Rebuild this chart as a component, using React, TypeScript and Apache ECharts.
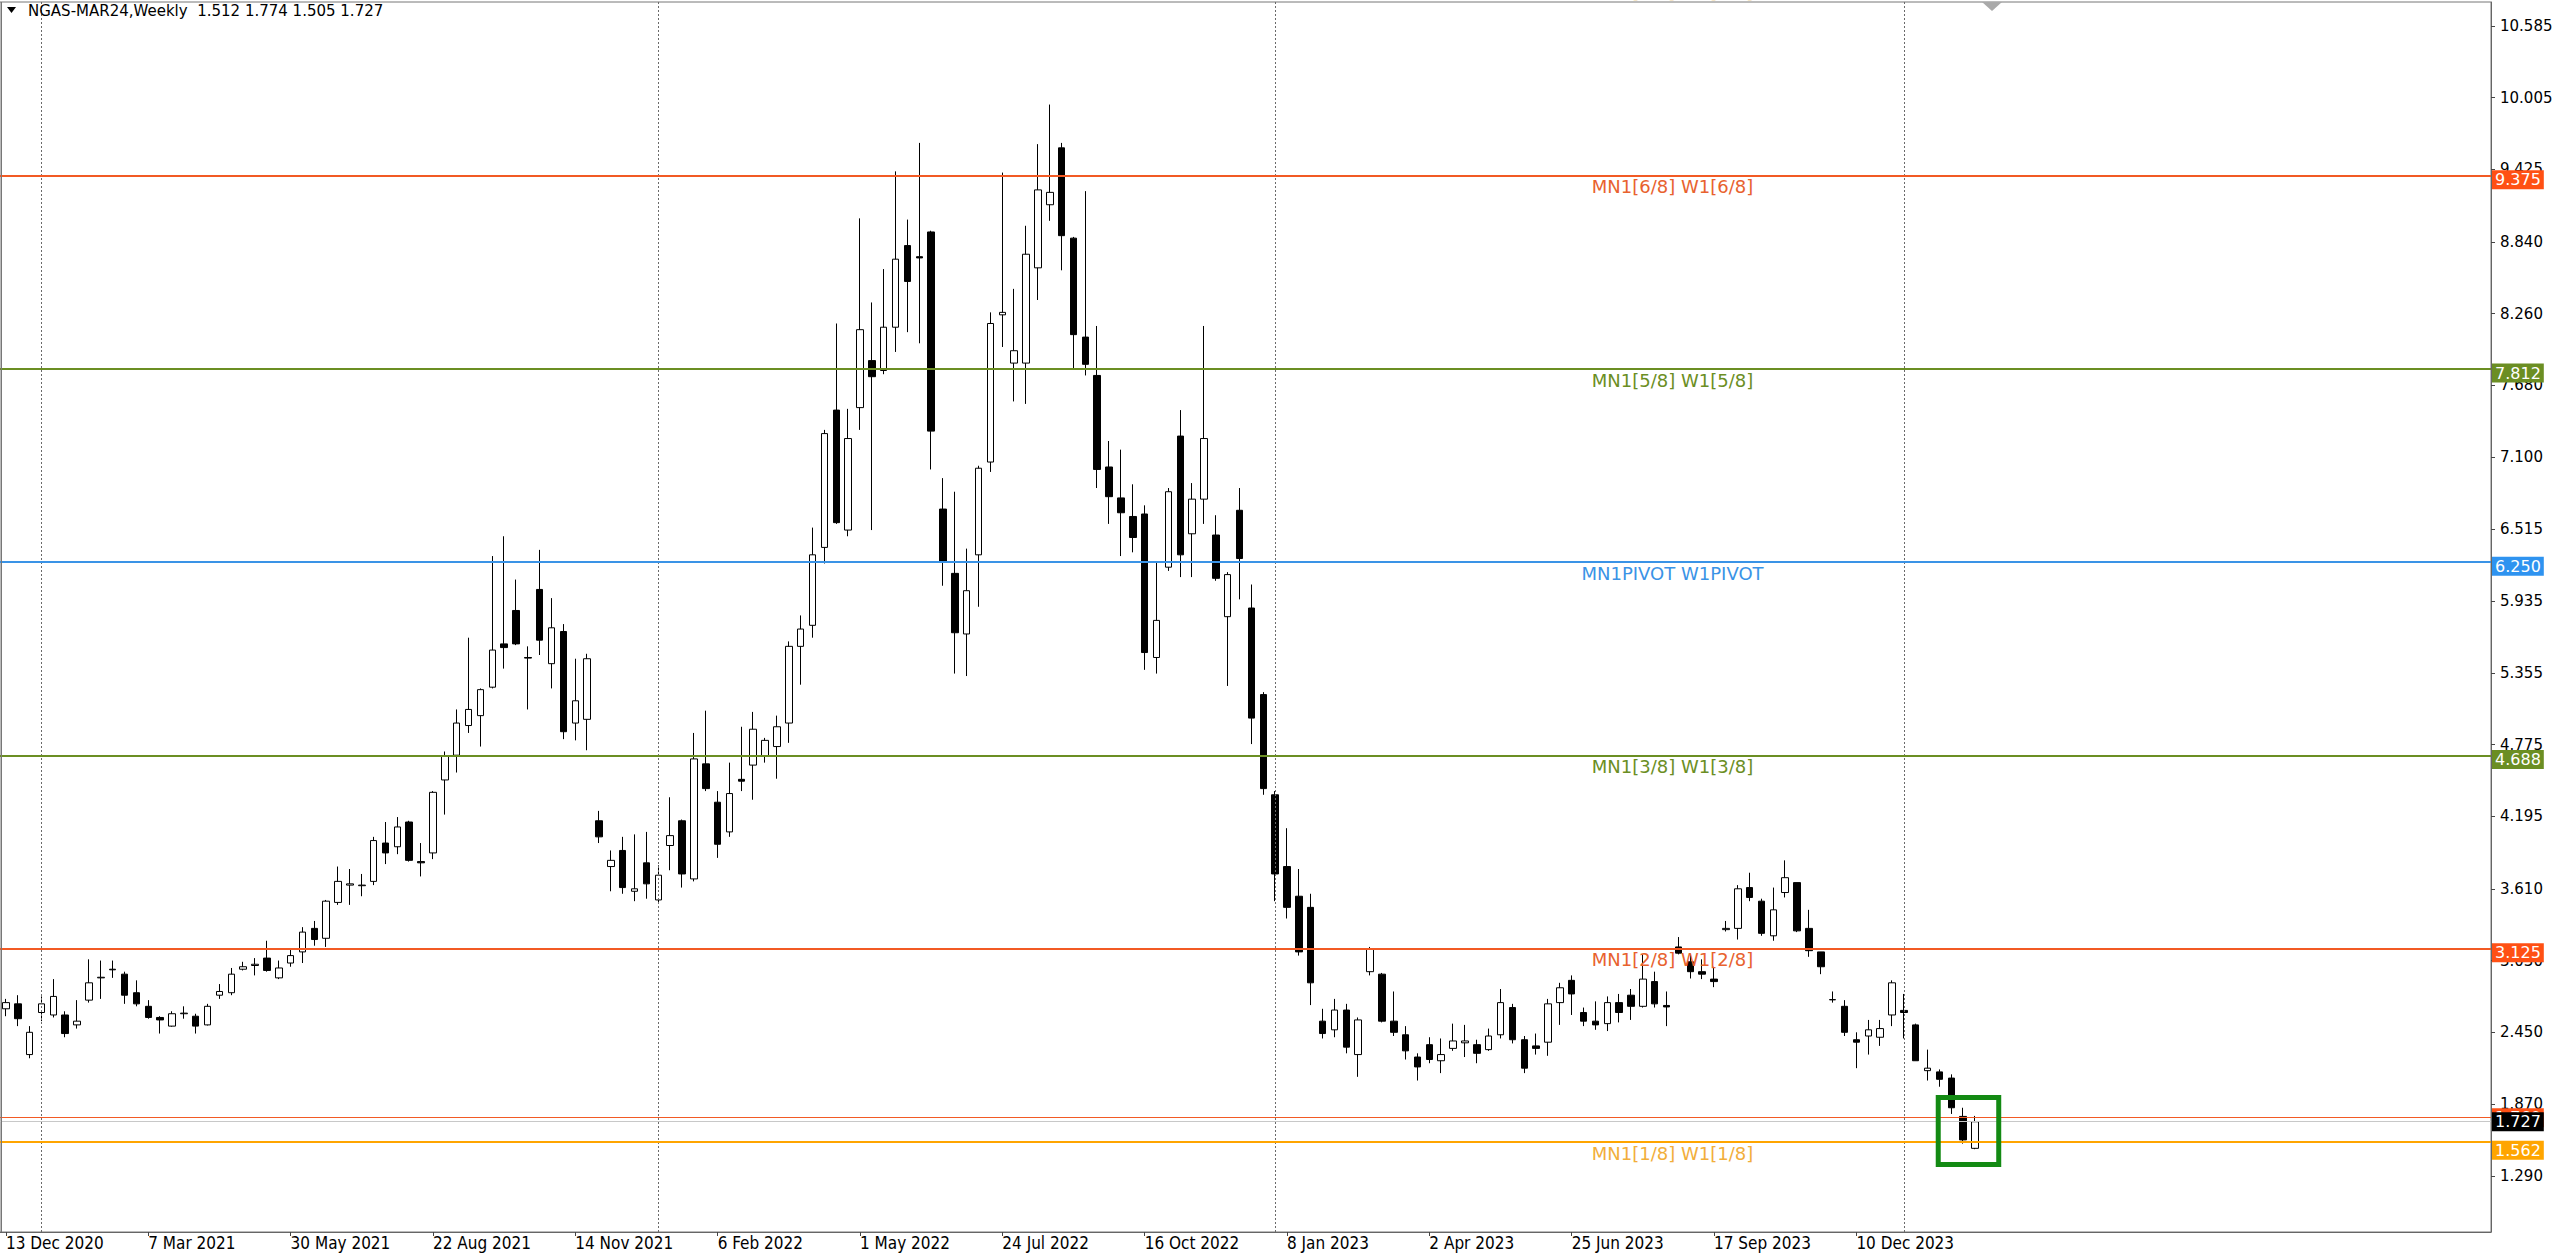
import React, { useEffect, useRef } from "react";
import * as echarts from "echarts";

// ---------- categories (weekly bars, first bar = 13 Dec 2020) ----------
const MONTHS = ["Jan", "Feb", "Mar", "Apr", "May", "Jun", "Jul", "Aug", "Sep", "Oct", "Nov", "Dec"];
const FIRST_WEEK = Date.UTC(2020, 11, 13);
const SLOT_COUNT = 210; // bars + empty space on the right (chart shift)
const CATEGORIES: string[] = Array.from({ length: SLOT_COUNT }, (_, i) => {
  const d = new Date(FIRST_WEEK + i * 7 * 86400000);
  return `${d.getUTCDate()} ${MONTHS[d.getUTCMonth()]} ${d.getUTCFullYear()}`;
});

// ---------- OHLC values ----------
const OPEN = [
  2.64, 2.68, 2.27, 2.61, 2.59, 2.59, 2.51, 2.71, 2.89, 2.96,
  2.92, 2.77, 2.66, 2.57, 2.50, 2.60, 2.58, 2.51, 2.75, 2.77,
  2.96, 2.99, 3.05, 2.89, 3.01, 3.10, 3.29, 3.21, 3.50, 3.64,
  3.635, 3.67, 3.98, 3.95, 4.15, 3.83, 3.90, 4.49, 4.69, 4.93,
  5.01, 5.24, 5.59, 5.86, 5.48, 6.03, 5.43, 5.69, 4.95, 4.98,
  4.16, 3.79, 3.92, 3.59, 3.82, 3.52, 3.96, 4.16, 3.69, 4.62,
  4.31, 4.07, 4.495, 4.61, 4.68, 4.76, 4.95, 5.57, 5.74, 6.37,
  7.48, 6.51, 7.50, 7.88, 7.80, 8.15, 8.81, 8.72, 8.92, 6.68,
  6.16, 5.67, 6.31, 7.06, 8.25, 7.86, 7.86, 8.63, 9.14, 9.60,
  8.87, 8.07, 7.76, 7.02, 6.77, 6.62, 6.64, 5.48, 6.21, 7.27,
  6.48, 6.76, 6.47, 5.81, 6.67, 5.88, 5.18, 4.37, 3.79, 3.55,
  3.46, 2.54, 2.47, 2.63, 2.27, 2.94, 2.92, 2.54, 2.43, 2.25,
  2.35, 2.22, 2.32, 2.365, 2.35, 2.31, 2.43, 2.65, 2.39, 2.34,
  2.37, 2.69, 2.87, 2.61, 2.54, 2.52, 2.69, 2.75, 2.66, 2.86,
  2.667, 3.14, 3.02, 2.94, 2.88, 3.28, 3.29, 3.62, 3.51, 3.23,
  3.58, 3.66, 3.29, 3.10, 2.712, 2.66, 2.39, 2.42, 2.41, 2.59,
  2.627, 2.51, 2.14, 2.13, 2.08, 1.77, 1.512,
];
const HIGH = [
  2.72, 2.75, 2.50, 2.74, 2.88, 2.62, 2.71, 3.04, 3.03, 3.03,
  2.94, 2.87, 2.71, 2.58, 2.62, 2.66, 2.60, 2.68, 2.84, 2.97,
  3.02, 3.05, 3.19, 3.03, 3.12, 3.30, 3.35, 3.52, 3.79, 3.77,
  3.73, 4.03, 4.15, 4.19, 4.16, 3.98, 4.40, 4.72, 5.06, 5.64,
  5.23, 6.30, 6.46, 6.11, 5.57, 6.35, 5.96, 5.75, 5.47, 5.51,
  4.24, 3.92, 4.03, 4.05, 4.07, 3.80, 4.35, 4.17, 4.87, 5.05,
  4.40, 4.63, 4.92, 5.04, 4.83, 5.01, 5.61, 5.82, 6.53, 7.32,
  8.18, 7.49, 9.03, 8.35, 8.62, 9.41, 9.02, 9.64, 8.93, 6.93,
  6.82, 6.36, 7.03, 8.27, 9.40, 8.46, 8.97, 9.63, 9.95, 9.64,
  8.88, 9.25, 8.16, 7.23, 7.16, 6.88, 6.71, 6.26, 6.85, 7.48,
  6.89, 8.16, 6.63, 6.17, 6.85, 6.07, 5.20, 4.40, 4.10, 3.77,
  3.57, 2.64, 2.72, 2.68, 2.57, 3.14, 2.93, 2.78, 2.50, 2.28,
  2.41, 2.40, 2.52, 2.51, 2.39, 2.48, 2.80, 2.68, 2.42, 2.44,
  2.72, 2.85, 2.91, 2.65, 2.70, 2.74, 2.76, 2.80, 3.08, 2.94,
  2.78, 3.22, 3.08, 3.04, 2.98, 3.35, 3.64, 3.74, 3.53, 3.62,
  3.84, 3.66, 3.44, 3.10, 2.78, 2.71, 2.45, 2.55, 2.55, 2.87,
  2.76, 2.52, 2.31, 2.15, 2.11, 1.84, 1.774,
];
const LOW = [
  2.58, 2.50, 2.24, 2.54, 2.57, 2.41, 2.48, 2.69, 2.72, 2.89,
  2.68, 2.66, 2.56, 2.44, 2.495, 2.56, 2.44, 2.505, 2.72, 2.75,
  2.95, 2.91, 2.94, 2.88, 2.98, 3.01, 3.15, 3.14, 3.48, 3.48,
  3.55, 3.64, 3.81, 3.89, 3.83, 3.71, 3.85, 4.21, 4.55, 4.87,
  4.76, 5.23, 5.39, 5.58, 5.06, 5.50, 5.23, 4.82, 4.81, 4.73,
  3.98, 3.59, 3.57, 3.51, 3.53, 3.49, 3.76, 3.62, 3.67, 4.40,
  3.86, 4.03, 4.40, 4.33, 4.63, 4.50, 4.79, 5.26, 5.64, 6.24,
  6.56, 6.46, 7.32, 6.51, 7.77, 7.95, 8.11, 8.02, 7.00, 6.06,
  5.35, 5.33, 5.89, 6.98, 7.99, 7.55, 7.53, 8.37, 9.01, 8.61,
  7.81, 7.76, 6.85, 6.56, 6.30, 6.33, 5.38, 5.35, 6.18, 6.13,
  6.13, 6.56, 6.10, 5.25, 5.95, 4.78, 4.37, 3.51, 3.37, 3.07,
  2.67, 2.40, 2.41, 2.28, 2.09, 2.91, 2.53, 2.42, 2.23, 2.06,
  2.20, 2.12, 2.30, 2.25, 2.20, 2.30, 2.40, 2.36, 2.12, 2.27,
  2.26, 2.51, 2.59, 2.50, 2.47, 2.46, 2.53, 2.55, 2.65, 2.65,
  2.50, 3.08, 2.885, 2.88, 2.815, 3.265, 3.20, 3.51, 3.23, 3.19,
  3.54, 3.26, 3.06, 2.92, 2.69, 2.42, 2.16, 2.27, 2.34, 2.50,
  2.40, 2.22, 2.06, 2.01, 1.79, 1.55, 1.505,
];
const CLOSE = [
  2.69, 2.56, 2.45, 2.68, 2.74, 2.44, 2.54, 2.85, 2.895, 2.955,
  2.75, 2.68, 2.57, 2.55, 2.60, 2.605, 2.50, 2.66, 2.78, 2.92,
  2.98, 3.00, 2.95, 2.97, 3.07, 3.26, 3.20, 3.51, 3.67, 3.65,
  3.64, 4.00, 3.90, 4.11, 3.84, 3.82, 4.39, 4.68, 4.95, 5.06,
  5.22, 5.54, 5.56, 5.59, 5.475, 5.62, 5.72, 4.88, 5.13, 5.47,
  4.03, 3.84, 3.62, 3.61, 3.65, 3.72, 4.04, 3.73, 4.66, 4.42,
  3.97, 4.38, 4.48, 4.90, 4.81, 4.92, 5.57, 5.71, 6.31, 7.29,
  6.57, 7.25, 8.13, 7.75, 8.15, 8.70, 8.52, 8.71, 7.31, 6.26,
  5.68, 6.02, 7.01, 8.18, 8.27, 7.96, 8.74, 9.26, 9.24, 8.89,
  8.09, 7.85, 7.00, 6.78, 6.65, 6.45, 5.52, 5.78, 6.82, 6.31,
  6.76, 7.25, 6.12, 6.15, 6.28, 4.99, 4.42, 3.73, 3.46, 3.10,
  2.85, 2.44, 2.63, 2.33, 2.55, 3.12, 2.54, 2.45, 2.30, 2.17,
  2.23, 2.27, 2.38, 2.38, 2.28, 2.42, 2.69, 2.39, 2.16, 2.32,
  2.68, 2.81, 2.76, 2.54, 2.51, 2.69, 2.61, 2.66, 2.88, 2.68,
  2.655, 3.09, 2.94, 2.92, 2.86, 3.29, 3.61, 3.54, 3.25, 3.44,
  3.70, 3.27, 3.11, 2.98, 2.715, 2.45, 2.37, 2.47, 2.48, 2.85,
  2.61, 2.22, 2.16, 2.07, 1.84, 1.58, 1.727,
];

// ---------- axis tick labels ----------
const Y_TICKS = [10.585, 10.005, 9.425, 8.84, 8.26, 7.68, 7.1, 6.515, 5.935, 5.355, 4.775, 4.195, 3.61, 3.03, 2.45, 1.87, 1.29];
const X_LABEL_EVERY = 12;

// ---------- Murrey levels ----------
const LEVEL_VALUES = [9.375, 7.812, 6.25, 4.688, 3.125, 1.562];
const LEVEL_NAMES = ["MN1[6/8] W1[6/8]", "MN1[5/8] W1[5/8]", "MN1PIVOT W1PIVOT", "MN1[3/8] W1[3/8]", "MN1[2/8] W1[2/8]", "MN1[1/8] W1[1/8]"];
const TOP_LEVEL_VALUE = 10.938;
const TOP_LEVEL_NAME = "MN1[7/8] W1[7/8]";
const ASK_PRICE = 1.76;
const SEPARATOR_BARS = [3, 55, 107, 160]; // first week of each year
const BOX_BARS = [162.9, 168.0];
const BOX_PRICES = [1.923, 1.381];

// ---------- styles ----------
const FONT = "'DejaVu Sans', Verdana, sans-serif";
const NARROW = "'Liberation Sans Narrow', 'DejaVu Sans Condensed', sans-serif";
const LEVEL_LINE_COLORS = ["#F25A24", "#6B8E23", "#3A93E6", "#6B8E23", "#F25A24", "#FFA500"];
const LEVEL_TAG_COLORS = ["#FF5014", "#6B8E23", "#2E93F0", "#6B8E23", "#FF5014", "#FFA500"];
const LEVEL_TEXT_COLORS = ["#E8622E", "#6B8E23", "#3A93E6", "#6B8E23", "#E8622E", "#F2AE3A"];

const tagLabel = (text: string, bg: string, dy: number) => ({
  show: true,
  position: "end",
  formatter: text,
  color: "#fff",
  backgroundColor: bg,
  padding: [2, 3, 1, 3],
  fontSize: 16,
  fontFamily: FONT,
  distance: 1,
  offset: [0, dy],
});

const App: React.FC = () => {
  const ref = useRef<HTMLDivElement>(null);

  useEffect(() => {
    if (!ref.current) return;
    const chart = echarts.init(ref.current, null, { renderer: "svg" });
    const lastIdx = CLOSE.length - 1;
    const showIdx = (i: number) => i % X_LABEL_EVERY === 0 && i <= lastIdx;

    const markData: any[] = [];
    // year separators
    SEPARATOR_BARS.forEach((b) => {
      markData.push({
        xAxis: CATEGORIES[b],
        lineStyle: { color: "#6a6a6a", width: 1, type: [2, 2] },
        label: { show: false },
      });
    });
    // ask line (its tag mostly hidden behind the bid tag)
    markData.push({
      yAxis: ASK_PRICE,
      lineStyle: { color: "#F25A24", width: 1, type: "solid" },
      label: tagLabel(ASK_PRICE.toFixed(3), "#FF5014", 0),
    });
    // levels
    LEVEL_VALUES.forEach((v, k) => {
      markData.push({
        yAxis: v,
        lineStyle: { color: LEVEL_LINE_COLORS[k], width: 2, type: "solid" },
        label: tagLabel(v.toFixed(3), LEVEL_TAG_COLORS[k], k === 5 ? 8 : 4),
      });
      markData.push([
        {
          coord: [CATEGORIES[130], v],
          lineStyle: { color: LEVEL_LINE_COLORS[k], width: 2, type: "solid" },
          label: {
            show: true, position: "insideMiddleBottom", formatter: LEVEL_NAMES[k],
            color: LEVEL_TEXT_COLORS[k], fontSize: 18, fontFamily: FONT, distance: 2,
          },
        },
        { coord: [CATEGORIES[151], v] },
      ]);
    });
    // bid line + tag
    markData.push({
      yAxis: CLOSE[lastIdx],
      lineStyle: { color: "#C8C8C8", width: 1, type: "solid" },
      label: tagLabel(CLOSE[lastIdx].toFixed(3), "#000", 0),
    });

    const option: any = {
      animation: false,
      backgroundColor: "#ffffff",
      grid: { left: -2.4, right: 69, top: 2, bottom: 21, show: true, borderColor: "#777", borderWidth: 1, backgroundColor: "transparent" },
      xAxis: {
        type: "category",
        data: CATEGORIES,
        boundaryGap: true,
        axisLine: { show: true, lineStyle: { color: "#666", width: 1 } },
        axisTick: { show: true, length: 4, alignWithLabel: true, interval: (i: number) => showIdx(i), lineStyle: { color: "#444" } },
        axisLabel: {
          interval: (i: number) => showIdx(i), align: "left", margin: 2, color: "#000",
          fontSize: 17, fontFamily: NARROW,
        },
        splitLine: { show: false },
      },
      yAxis: {
        type: "value",
        position: "right",
        min: 0.8356,
        max: 10.779,
        axisLine: { show: true, lineStyle: { color: "#666", width: 1 } },
        axisTick: { show: true, length: 4, customValues: Y_TICKS, lineStyle: { color: "#444" } },
        axisLabel: {
          customValues: Y_TICKS, formatter: (v: number) => v.toFixed(3), margin: 9,
          color: "#000", fontSize: 15, fontFamily: FONT,
        },
        splitLine: { show: false },
      },
      series: [
        {
          type: "line",
          data: [],
          z: 1,
          silent: true,
          markLine: { silent: true, symbol: ["none", "none"], animation: false, precision: 3, data: markData },
        },
        {
          type: "candlestick",
          z: 3,
          barWidth: 7,
          data: OPEN.map((o, i) => [o, CLOSE[i], LOW[i], HIGH[i]]),
          itemStyle: { color: "#ffffff", color0: "#000000", borderColor: "#000000", borderColor0: "#000000", borderWidth: 1 },
        },
      ],
    };
    chart.setOption(option);

    const toPx = (i: number, v: number) => chart.convertToPixel({ xAxisIndex: 0, yAxisIndex: 0 }, [i, v]) as number[];
    const xAt = (f: number) => {
      const a = Math.floor(f);
      const pa = toPx(a, 1)[0];
      const pb = toPx(a + 1, 1)[0];
      return pa + (f - a) * (pb - pa);
    };
    const yAt = (v: number) => toPx(0, v)[1];

    const bx0 = xAt(BOX_BARS[0]);
    const bx1 = xAt(BOX_BARS[1]);
    const by0 = yAt(BOX_PRICES[0]);
    const by1 = yAt(BOX_PRICES[1]);
    const title = `NGAS-MAR24,Weekly  ${OPEN[lastIdx].toFixed(3)} ${HIGH[lastIdx].toFixed(3)} ${LOW[lastIdx].toFixed(3)} ${CLOSE[lastIdx].toFixed(3)}`;

    chart.setOption({
      graphic: [
        { type: "line", shape: { x1: 1.5, y1: 2, x2: 1.5, y2: 1232 }, style: { stroke: "#777", lineWidth: 1 }, z: 10 },
        { type: "polygon", shape: { points: [[7, 7], [16, 7], [11.5, 13]] }, style: { fill: "#000" }, z: 10 },
        {
          type: "text", x: 28, y: 3, z: 10,
          style: { text: title, fill: "#000", font: `15px ${FONT}`, verticalAlign: "top", align: "left" },
        },
        {
          type: "text", x: xAt(140.5), y: yAt(TOP_LEVEL_VALUE) + 9, z: 10,
          style: { text: TOP_LEVEL_NAME, fill: "#E0A82E", font: `18px ${FONT}`, verticalAlign: "middle", align: "center" },
        },
        { type: "polygon", shape: { points: [[1982, 2], [2002, 2], [1992, 11]] }, style: { fill: "#A9A9A9" }, z: 10 },
        {
          type: "rect", z: 10,
          shape: { x: bx0, y: by0, width: bx1 - bx0, height: by1 - by0 },
          style: { fill: "none", stroke: "#138A13", lineWidth: 5 },
        },
      ],
    });

    return () => chart.dispose();
  }, []);

  return (
    <div
      ref={ref}
      style={{ position: "fixed", left: 0, top: 0, width: "2560px", height: "1253px", background: "#fff" }}
    />
  );
};

export default App;
